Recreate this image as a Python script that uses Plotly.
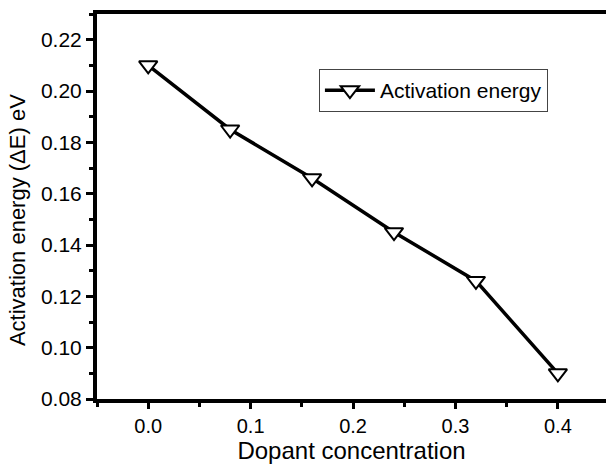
import plotly.graph_objects as go

dopant = [0.0, 0.08, 0.16, 0.24, 0.32, 0.40]
energy = [0.210, 0.185, 0.166, 0.145, 0.126, 0.090]
series_name = "Activation energy"
x_title = "Dopant concentration"
y_title = "Activation energy (ΔE) eV"
x_ticks = [0.0, 0.1, 0.2, 0.3, 0.4]
x_ticktext = ["0.0", "0.1", "0.2", "0.3", "0.4"]
y_ticks = [0.08, 0.10, 0.12, 0.14, 0.16, 0.18, 0.20, 0.22]
y_ticktext = ["0.08", "0.10", "0.12", "0.14", "0.16", "0.18", "0.20", "0.22"]

fig = go.Figure()
fig.add_trace(go.Scatter(
    x=dopant, y=energy, mode="lines+markers", name=series_name,
    line=dict(color="black", width=3.5),
    marker=dict(symbol="triangle-down", size=16, color="white",
                line=dict(color="black", width=2)),
))

font_family = "Liberation Sans, Arial, sans-serif"
fig.update_layout(
    width=606, height=464,
    margin=dict(l=97, r=0, t=14, b=65),
    paper_bgcolor="white", plot_bgcolor="white",
    font=dict(family=font_family, color="black"),
    showlegend=True,
    legend=dict(x=0.436, y=0.857, xanchor="left", yanchor="top",
                bordercolor="#444", borderwidth=1, bgcolor="white",
                font=dict(size=21), itemwidth=50,
                tracegroupgap=0),
    annotations=[dict(
        text=y_title, textangle=-90, xref="paper", yref="paper",
        x=-0.155, y=0.465, xanchor="center", yanchor="middle",
        showarrow=False, font=dict(size=22, family=font_family, color="black"),
    )],
)
fig.update_xaxes(
    range=[-0.05, 0.447], tickvals=x_ticks, ticktext=x_ticktext,
    showline=True, linecolor="black", linewidth=4, mirror=True,
    ticks="outside", ticklen=6, tickwidth=3, tickcolor="black",
    minor=dict(dtick=0.05, tick0=0, ticks="outside", ticklen=4, tickwidth=3, tickcolor="black"),
    showgrid=False, zeroline=False,
    tickfont=dict(size=20),
    title=dict(text=x_title, font=dict(size=24), standoff=3),
)
fig.update_yaxes(
    range=[0.08, 0.23], tickvals=y_ticks, ticktext=y_ticktext,
    showline=True, linecolor="black", linewidth=4, mirror=False,
    ticks="outside", ticklen=7, tickwidth=3, tickcolor="black",
    minor=dict(dtick=0.01, tick0=0.08, ticks="outside", ticklen=4, tickwidth=3, tickcolor="black"),
    showgrid=False, zeroline=False,
    tickfont=dict(size=21),
)

fig.write_html("out.html")
